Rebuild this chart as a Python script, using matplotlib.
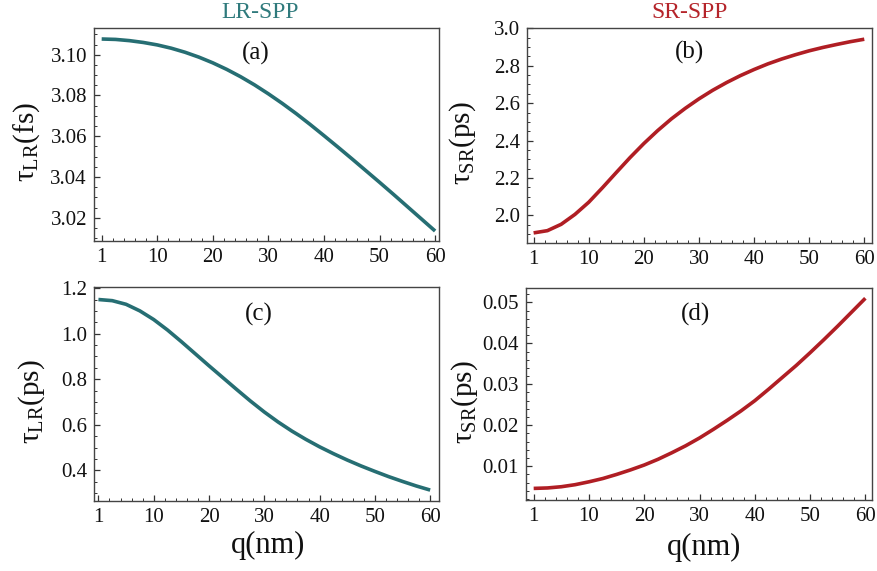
import matplotlib
matplotlib.use("Agg")
import matplotlib.pyplot as plt
from matplotlib.ticker import FixedLocator, MultipleLocator, FormatStrFormatter

plt.rcParams['font.family'] = ['Liberation Serif', 'DejaVu Serif']
plt.rcParams['mathtext.fontset'] = 'custom'
plt.rcParams['mathtext.rm'] = 'Liberation Serif'
plt.rcParams['mathtext.it'] = 'Liberation Serif:italic'

# ---- data ----
q = [0, 2.5, 5, 7.5, 10, 12.5, 15, 17.5, 20, 22.5, 25, 27.5, 30,
     32.5, 35, 37.5, 40, 42.5, 45, 47.5, 50, 52.5, 55, 57.5, 60]
x_ticks = [0, 10, 20, 30, 40, 50, 60]
x_tick_labels = ["1", "10", "20", "30", "40", "50", "60"]

tau_lr_fs = [3.1077, 3.1075, 3.1069, 3.1060, 3.1048, 3.1032, 3.1012, 3.0988,
             3.0960, 3.0928, 3.0892, 3.0852, 3.0808, 3.0761, 3.0711, 3.0658,
             3.0603, 3.0547, 3.0490, 3.0432, 3.0374, 3.0315, 3.0255, 3.0195,
             3.0135]
tau_sr_ps_b = [1.906, 1.918, 1.952, 2.005, 2.070, 2.148, 2.229, 2.309, 2.384,
               2.453, 2.516, 2.572, 2.623, 2.669, 2.710, 2.747, 2.780, 2.810,
               2.836, 2.859, 2.880, 2.898, 2.914, 2.929, 2.942]
tau_lr_ps = [1.150, 1.145, 1.129, 1.100, 1.062, 1.016, 0.965, 0.912, 0.859,
             0.807, 0.755, 0.704, 0.656, 0.612, 0.572, 0.536, 0.503, 0.473,
             0.445, 0.419, 0.395, 0.372, 0.351, 0.331, 0.313]
tau_sr_ps_d = [0.00459, 0.0047, 0.0050, 0.0055, 0.0062, 0.0070, 0.0080, 0.0091,
               0.0103, 0.0117, 0.0133, 0.0150, 0.0169, 0.0190, 0.0212, 0.0235,
               0.0260, 0.0288, 0.0317, 0.0346, 0.0377, 0.0409, 0.0442, 0.0476,
               0.0510]

yticks_a = [3.02, 3.04, 3.06, 3.08, 3.10]
yticks_b = [2.0, 2.2, 2.4, 2.6, 2.8, 3.0]
yticks_c = [0.4, 0.6, 0.8, 1.0, 1.2]
yticks_d = [0.01, 0.02, 0.03, 0.04, 0.05]

TEAL = '#266e73'
RED = '#b01e24'

W, H = 877, 571
fig = plt.figure(figsize=(W / 100, H / 100), dpi=100)


def axes_px(left, top, right, bottom):
    return fig.add_axes([left / W, 1 - bottom / H, (right - left) / W, (bottom - top) / H])


panels = [
    dict(box=(94, 28, 439, 241), xlim=(-1.38, 60.7), ylim=(3.0086, 3.1131), y=tau_lr_fs,
         c=TEAL, yt=yticks_a, fmt='%.2f', minor=0.005, tag='(a)',
         ylab=r'$\mathrm{\tau}_{\mathrm{LR}}$(fs)', ylx=27, tagxy=(256, 53)),
    dict(box=(527, 28, 872, 243), xlim=(-1.2, 61.4), ylim=(1.852, 3.002), y=tau_sr_ps_b,
         c=RED, yt=yticks_b, fmt='%.1f', minor=0.05, tag='(b)',
         ylab=r'$\mathrm{\tau}_{\mathrm{SR}}$(ps)', ylx=463, tagxy=(689, 52)),
    dict(box=(94, 287, 439, 501), xlim=(-0.8, 61.6), ylim=(0.265, 1.205), y=tau_lr_ps,
         c=TEAL, yt=yticks_c, fmt='%.1f', minor=0.05, tag='(c)',
         ylab=r'$\mathrm{\tau}_{\mathrm{LR}}$(ps)', ylx=32, tagxy=(259, 314)),
    dict(box=(526, 288, 872, 500), xlim=(-1.39, 61.2), ylim=(0.00176, 0.0535), y=tau_sr_ps_d,
         c=RED, yt=yticks_d, fmt='%.2f', minor=0.002, tag='(d)',
         ylab=r'$\mathrm{\tau}_{\mathrm{SR}}$(ps)', ylx=465, tagxy=(695, 314)),
]

for i, p in enumerate(panels):
    l, t, r, b = p['box']
    ax = axes_px(l, t, r, b)
    ax.plot(q, p['y'], color=p['c'], lw=2.6, solid_capstyle='butt', solid_joinstyle='round')
    ax.set_xlim(*p['xlim'])
    ax.set_ylim(*p['ylim'])
    ax.xaxis.set_major_locator(FixedLocator(x_ticks))
    ax.set_xticklabels(x_tick_labels)
    ax.xaxis.set_minor_locator(MultipleLocator(2))
    ax.yaxis.set_major_locator(FixedLocator(p['yt']))
    ax.yaxis.set_major_formatter(FormatStrFormatter(p['fmt']))
    ax.yaxis.set_minor_locator(MultipleLocator(p['minor']))
    ax.tick_params(which='both', direction='in', top=False, right=False,
                   color='#333333', labelsize=15, labelcolor='#111111')
    ax.tick_params(which='major', length=4.5, width=0.9, pad=5)
    ax.tick_params(which='minor', length=2.5, width=0.7)
    for s in ax.spines.values():
        s.set_color('#444444')
        s.set_linewidth(1.0)
    cy = (t + b) / 2 + 8
    fig.text(p['ylx'] / W, 1 - cy / H, p['ylab'], rotation=90, fontsize=21,
             ha='center', va='center', color='#111111')
    fig.text(p['tagxy'][0] / W, 1 - p['tagxy'][1] / H, p['tag'], fontsize=18,
             ha='center', va='center', color='#111111')

fig.text(260 / W, 1 - 13 / H, 'LR-SPP', fontsize=17, color='#2f7a7c', ha='center', va='center')
fig.text(690 / W, 1 - 13 / H, 'SR-SPP', fontsize=17, color='#b5242a', ha='center', va='center')

fig.text(268 / W, 1 - 545 / H, 'q(nm)', fontsize=22, color='#111111', ha='center', va='center')
fig.text(704 / W, 1 - 547 / H, 'q(nm)', fontsize=22, color='#111111', ha='center', va='center')

fig.savefig('out.png', dpi=100)
